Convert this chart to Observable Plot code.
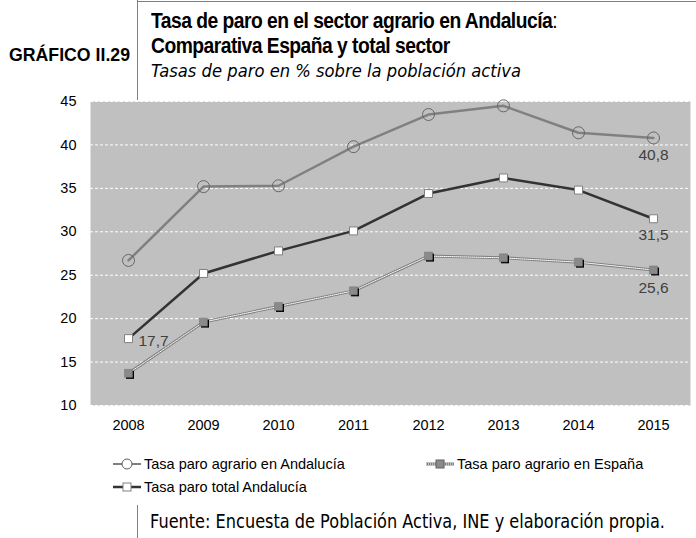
<!DOCTYPE html>
<html><head><meta charset="utf-8">
<script src="https://cdn.jsdelivr.net/npm/d3@7"></script>
<script src="https://cdn.jsdelivr.net/npm/@observablehq/plot@0.6"></script>
<style>
body{margin:0;background:#fff;font-family:"Liberation Sans",Arial,sans-serif;}
#wrap{position:relative;width:696px;height:538px;overflow:hidden;}
.abs{position:absolute;white-space:nowrap;}
.fit{position:absolute;white-space:nowrap;transform-origin:left top;display:inline-block;}
#chart{position:absolute;left:0;top:90px;}
.leg{position:absolute;font-size:14.5px;color:#000;display:flex;align-items:center;white-space:nowrap;}
.leg svg{margin-right:2px;}
</style></head><body>
<div id="wrap">
  <div class="abs" style="left:137px;top:0;width:1px;height:100px;background:#808080"></div>
  <div class="abs" style="left:137px;top:1px;width:559px;height:1px;background:#808080"></div>
  <div class="fit" data-w="121" style="left:9px;top:45px;font-weight:bold;font-size:18px;line-height:20px">GRÁFICO II.29</div>
  <div class="fit" data-w="406" id="t1" style="left:151px;top:10px;font-weight:bold;font-size:22px;line-height:22px;letter-spacing:-0.6px">Tasa de paro en el sector agrario en Andalucía<span style="font-weight:normal">:</span></div>
  <div class="fit" data-same="t1" style="left:151px;top:35px;font-weight:bold;font-size:22px;line-height:22px;letter-spacing:-0.6px">Comparativa España y total sector</div>
  <div class="fit" data-w="370" style="left:151px;top:61px;font-style:italic;font-size:18px;line-height:20px;font-family:'DejaVu Sans'">Tasas de paro en % sobre la población activa</div>
  <div id="chart"></div>
  <div class="leg" style="left:112px;top:456px"><svg width="30" height="14"><line x1="1" y1="7" x2="29" y2="7" stroke="#808080" stroke-width="2"/><circle cx="15" cy="7" r="5" fill="#fff" stroke="#606060"/></svg>Tasa paro agrario en Andalucía</div>
  <div class="leg" style="left:425px;top:456px"><svg width="30" height="14"><line x1="1" y1="7" x2="29" y2="7" stroke="#808080" stroke-width="3"/><line x1="1" y1="7" x2="29" y2="7" stroke="#fff" stroke-width="1" stroke-dasharray="1,1"/><rect x="11" y="3" width="8" height="8" fill="#8a8a8a" stroke="#606060"/></svg>Tasa paro agrario en España</div>
  <div class="leg" style="left:112px;top:479px"><svg width="30" height="14"><line x1="1" y1="7" x2="29" y2="7" stroke="#333" stroke-width="2.5"/><rect x="11" y="3" width="8" height="8" fill="#fff" stroke="#808080"/></svg>Tasa paro total Andalucía</div>
  <div class="abs" style="left:137px;top:505px;width:1px;height:33px;background:#808080"></div>
  <div class="fit" data-w="515" style="left:150px;top:510px;font-size:20px;line-height:22px;font-family:'DejaVu Sans'">Fuente: Encuesta de Población Activa, INE y elaboración propia.</div>
</div>
<script>
const years = ["2008","2009","2010","2011","2012","2013","2014","2015"];
const agrarioAndalucia = [26.7,35.2,35.3,39.8,43.5,44.5,41.4,40.8];
const agrarioEspana = [13.7,19.6,21.4,23.2,27.2,27.0,26.5,25.6];
const totalAndalucia = [17.7,25.2,27.8,30.1,34.4,36.2,34.8,31.5];
const yTicks = [10,15,20,25,30,35,40,45];

const rows = (vals) => years.map((y,i)=>({year:y, v:vals[i]}));
const A = rows(agrarioAndalucia), E = rows(agrarioEspana), T = rows(totalAndalucia);
const fmt = d => d.v.toFixed(1).replace(".",",");

const plot = Plot.plot({
  width:696, height:350,
  marginLeft:90, marginRight:6, marginTop:11, marginBottom:35,
  style:{fontFamily:"'Liberation Sans',Arial,sans-serif", fontSize:"14px", color:"#000", background:"transparent"},
  x:{type:"point", domain:years, padding:0.5, label:null},
  y:{domain:[10,45], ticks:yTicks, label:null},
  marks:[
    Plot.frame({fill:"#c0c0c0", stroke:null}),
    Plot.ruleY(yTicks, {stroke:"#fff", strokeDasharray:"3,2", strokeWidth:1}),
    Plot.axisY({ticks:yTicks, tickSize:0, tickPadding:14, fontSize:14.5}),
    Plot.axisX({tickSize:0, tickPadding:14, fontSize:14.5}),
    Plot.line(E, {x:"year", y:"v", stroke:"#808080", strokeWidth:3}),
    Plot.line(E, {x:"year", y:"v", stroke:"#fff", strokeWidth:1, strokeDasharray:"1,1"}),
    Plot.dot(E, {x:"year", y:"v", symbol:"square", r:4.5, fill:"#000", dx:1.5, dy:1.5}),
    Plot.dot(E, {x:"year", y:"v", symbol:"square", r:4.5, fill:"#8a8a8a", stroke:"#707070", strokeWidth:0.5}),
    Plot.line(T, {x:"year", y:"v", stroke:"#333", strokeWidth:2.5}),
    Plot.dot(T, {x:"year", y:"v", symbol:"square", r:4.5, fill:"#fff", stroke:"#808080", strokeWidth:1}),
    Plot.line(A, {x:"year", y:"v", stroke:"#808080", strokeWidth:2.5}),
    Plot.dot(A, {x:"year", y:"v", r:6, fill:"none", stroke:"#666", strokeWidth:1}),
    Plot.text([A[7]], {x:"year", y:"v", text:fmt, dy:17, fontSize:15.5, fill:"#404040"}),
    Plot.text([T[7]], {x:"year", y:"v", text:fmt, dy:16, fontSize:15.5, fill:"#404040"}),
    Plot.text([E[7]], {x:"year", y:"v", text:fmt, dy:18, fontSize:15.5, fill:"#404040"}),
    Plot.text([T[0]], {x:"year", y:"v", text:fmt, dx:10, dy:2, textAnchor:"start", fontSize:15.5, fill:"#404040"})
  ]
});
document.getElementById("chart").appendChild(plot);

const scales = {};
document.querySelectorAll(".fit[data-w]").forEach(el=>{
  const w = el.getBoundingClientRect().width;
  const s = (+el.dataset.w)/w;
  scales[el.id||""] = s;
  el.style.transform = `scaleX(${s})`;
});
document.querySelectorAll(".fit[data-same]").forEach(el=>{
  el.style.transform = `scaleX(${scales[el.dataset.same]})`;
});
</script>
</body></html>
